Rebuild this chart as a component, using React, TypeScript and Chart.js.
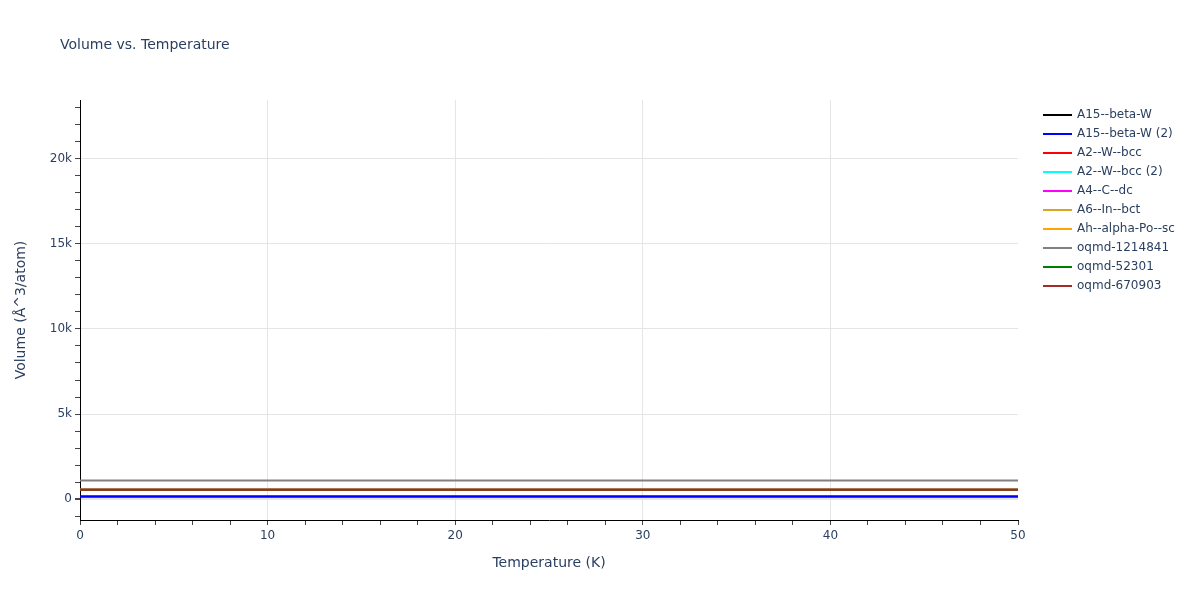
import React, { useEffect, useRef } from 'react';
import { Chart, ChartOptions, Plugin, registerables } from 'chart.js';

Chart.register(...registerables);

// temperature grid (K)
const temperatures = [0, 5, 10, 15, 20, 25, 30, 35, 40, 45, 50];

const seriesNames = [
  'A15--beta-W',
  'A15--beta-W (2)',
  'A2--W--bcc',
  'A2--W--bcc (2)',
  'A4--C--dc',
  'A6--In--bct',
  'Ah--alpha-Po--sc',
  'oqmd-1214841',
  'oqmd-52301',
  'oqmd-670903',
];
const seriesColors = [
  '#000000', '#0000ff', '#ff0000', '#00ffff', '#ff00ff',
  '#daa520', '#ffa500', '#808080', '#008000', '#a52a2a',
];
// volume per atom, flat over the temperature range
const seriesVolumes = [150, 150, 545, 545, 545, 545, 545, 1090, 545, 545];

const xTickLabels = ['0', '10', '20', '30', '40', '50'];
const yTickLabels = ['0', '5k', '10k', '15k', '20k'];

const FONT = '"DejaVu Sans", Verdana, sans-serif';
const TEXT = '#2a3f5f';

const decorPlugin: Plugin = {
  id: 'decor',
  afterDraw(chart) {
    const ctx = chart.ctx;
    const area = chart.chartArea;
    ctx.save();
    ctx.fillStyle = TEXT;
    ctx.font = `14px ${FONT}`;
    ctx.textAlign = 'left';
    ctx.textBaseline = 'middle';
    ctx.fillText('Volume vs. Temperature', 60, 45);

    ctx.textAlign = 'center';
    ctx.fillText('Temperature (K)', (area.left + area.right) / 2, 563);
    ctx.translate(21, (area.top + area.bottom) / 2);
    ctx.rotate(-Math.PI / 2);
    ctx.fillText('Volume (Å^3/atom)', 0, 0);
    ctx.restore();

    // legend
    ctx.save();
    ctx.font = `12px ${FONT}`;
    ctx.textBaseline = 'middle';
    ctx.textAlign = 'left';
    chart.data.datasets.forEach((ds, i) => {
      const y = 115 + i * 19;
      ctx.strokeStyle = ds.borderColor as string;
      ctx.lineWidth = 2;
      ctx.beginPath();
      ctx.moveTo(1043, y);
      ctx.lineTo(1072, y);
      ctx.stroke();
      ctx.fillStyle = TEXT;
      ctx.fillText(ds.label as string, 1077, y);
    });
    ctx.restore();
  },
};

const App: React.FC = () => {
  const canvasRef = useRef<HTMLCanvasElement | null>(null);
  const chartRef = useRef<Chart | null>(null);

  useEffect(() => {
    document.body.style.margin = '0';
    if (!canvasRef.current) return;
    if (chartRef.current) chartRef.current.destroy();

    const datasets = seriesNames.map((name, i) => ({
      label: name,
      data: temperatures.map(t => ({ x: t, y: seriesVolumes[i] })),
      borderColor: seriesColors[i],
      backgroundColor: seriesColors[i],
      borderWidth: 2,
      pointRadius: 0,
      fill: false,
      tension: 0,
      order: seriesNames.length - i,
    }));

    const options: ChartOptions<'line'> = {
      responsive: false,
      animation: false,
      layout: { padding: { top: 100, right: 182, left: 0, bottom: 0 } },
      plugins: {
        legend: { display: false },
        title: { display: false },
        tooltip: { enabled: false },
      },
      scales: {
        x: {
          type: 'linear',
          min: 0,
          max: 50,
          afterFit: scale => {
            scale.height = 80;
          },
          border: { display: true, color: '#000000', width: 1 },
          grid: {
            color: c => {
              const v = c.tick ? c.tick.value : 0;
              return v % 10 === 0 && v !== 0 && v !== 50 ? '#e5e5e5' : 'rgba(0,0,0,0)';
            },
            tickColor: '#444444',
            tickLength: 5,
            lineWidth: 1,
          },
          ticks: {
            stepSize: 2,
            autoSkip: false,
            maxRotation: 0,
            padding: 4,
            color: TEXT,
            font: { family: FONT, size: 12 },
            callback: v => {
              const s = String(v);
              return xTickLabels.includes(s) ? s : '';
            },
          },
        },
        y: {
          type: 'linear',
          min: -1235,
          max: 23470,
          afterFit: scale => {
            scale.width = 80;
          },
          afterBuildTicks: scale => {
            const ticks = [];
            for (let v = -1000; v <= 23000; v += 1000) ticks.push({ value: v });
            scale.ticks = ticks;
          },
          border: { display: true, color: '#000000', width: 1 },
          grid: {
            color: c => {
              const v = c.tick ? c.tick.value : 1;
              return v % 5000 === 0 ? '#e5e5e5' : 'rgba(0,0,0,0)';
            },
            lineWidth: c => (c.tick && c.tick.value === 0 ? 2 : 1),
            tickColor: '#444444',
            tickLength: 5,
          },
          ticks: {
            autoSkip: false,
            padding: 3,
            color: TEXT,
            font: { family: FONT, size: 12 },
            callback: v => {
              const n = Number(v);
              if (n % 5000 !== 0) return '';
              const s = n === 0 ? '0' : `${n / 1000}k`;
              return yTickLabels.includes(s) ? s : '';
            },
          },
        },
      },
    };

    chartRef.current = new Chart(canvasRef.current, {
      type: 'line',
      data: { datasets },
      options,
      plugins: [decorPlugin],
    });

    return () => {
      if (chartRef.current) {
        chartRef.current.destroy();
        chartRef.current = null;
      }
    };
  }, []);

  return (
    <div style={{ width: 1200, height: 600, background: '#ffffff' }}>
      <canvas ref={canvasRef} width={1200} height={600} style={{ width: 1200, height: 600 }}></canvas>
    </div>
  );
};

export default App;
